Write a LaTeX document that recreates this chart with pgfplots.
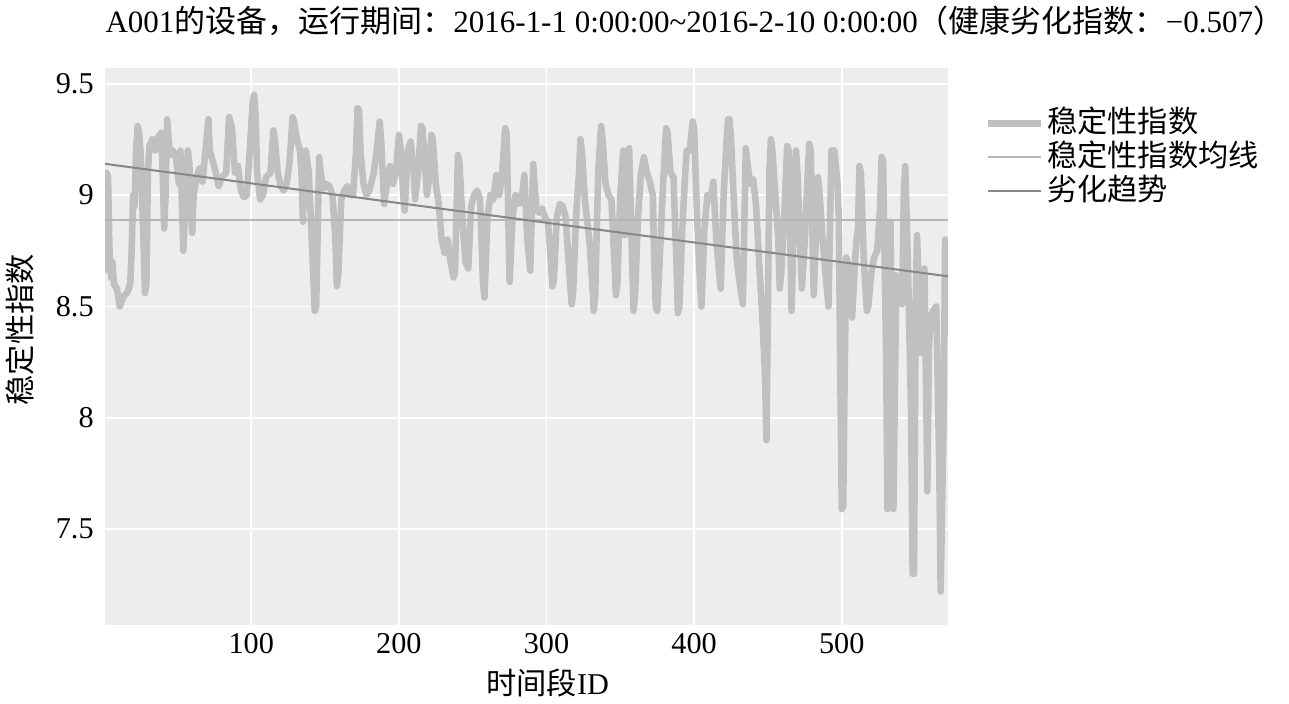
\documentclass[border=0pt]{standalone}
\usepackage{fontspec}
\setmainfont{Liberation Serif}
\newfontfamily\cjk{Noto Sans CJK SC}
\usepackage{pgfplots}
\usepackage{pgfplotstable}
\pgfplotsset{compat=1.18}
\definecolor{panel}{RGB}{237,237,237}
\definecolor{series}{RGB}{192,192,192}
\definecolor{meanc}{RGB}{182,182,182}
\definecolor{trendc}{RGB}{135,135,135}

% stability index per time slot
\pgfplotstableread{
x y
1 8.65
2 9.10
3 9.08
4 8.75
5 8.63
6 8.70
7 8.60
9 8.58
11 8.50
12 8.52
14 8.55
16 8.56
18 8.60
19 8.75
20 9.00
21 8.95
22 9.20
23 9.31
24 9.28
25 9.20
27 8.80
28 8.56
29 8.60
30 9.10
31 9.22
33 9.25
35 9.20
37 9.26
39 9.28
40 9.10
41 8.85
42 9.00
43 9.34
44 9.25
45 9.18
47 9.20
49 9.17
51 9.05
52 9.20
54 8.75
55 8.90
57 9.20
58 9.15
60 8.83
61 9.00
63 9.08
65 9.12
67 9.06
69 9.20
71 9.34
72 9.20
74 9.15
76 9.10
78 9.04
80 9.08
83 9.10
85 9.35
87 9.30
89 9.10
91 9.13
93 9.02
95 8.99
97 9.00
99 9.20
101 9.42
102 9.45
103 9.35
104 9.10
106 8.98
108 9.00
110 9.08
113 9.10
115 9.29
116 9.25
118 9.10
120 9.04
122 9.02
124 9.05
126 9.15
128 9.35
129 9.33
131 9.25
133 9.20
134 9.10
135 8.88
136 9.10
137 9.20
139 9.10
141 8.80
143 8.48
144 8.50
146 9.17
147 9.10
149 9.03
151 9.05
153 9.04
155 9.00
157 8.80
158 8.59
159 8.65
161 8.98
163 9.02
165 9.04
167 9.00
169 9.00
171 9.20
172 9.39
173 9.38
174 9.20
176 9.05
178 9.00
180 9.02
183 9.10
185 9.20
187 9.33
188 9.25
190 8.96
192 9.05
194 9.13
196 9.05
198 9.10
200 9.27
201 9.22
203 9.00
204 8.93
206 9.20
208 9.24
210 9.10
211 8.98
213 9.10
215 9.31
216 9.30
218 9.10
219 9.00
220 9.05
222 9.27
223 9.25
225 9.05
227 8.96
229 8.80
231 8.74
233 8.80
235 8.70
237 8.63
238 8.65
240 9.18
241 9.15
243 8.90
245 8.70
247 8.67
249 8.95
251 9.00
253 9.02
255 8.98
257 8.60
258 8.54
260 8.90
262 9.00
264 8.98
266 9.09
268 9.00
270 9.10
272 9.30
273 9.28
275 8.61
277 8.90
279 9.00
281 8.96
283 8.97
285 9.09
287 8.80
289 8.66
291 9.14
293 8.95
295 8.92
297 8.94
299 8.90
301 8.88
303 8.70
304 8.59
305 8.62
307 8.90
309 8.96
311 8.95
313 8.90
315 8.70
317 8.51
318 8.55
320 8.90
322 9.10
323 9.25
324 9.20
326 8.98
329 8.80
331 8.60
332 8.48
333 8.55
335 9.10
337 9.31
338 9.25
340 9.05
342 9.00
344 8.98
346 8.70
347 8.55
348 8.60
350 9.00
352 9.20
353 8.82
355 9.15
356 9.21
358 8.70
359 8.48
360 8.55
362 8.90
364 9.10
366 9.17
368 9.10
370 9.06
372 9.00
373 8.70
374 8.50
375 8.48
377 8.75
379 9.05
381 9.30
382 9.28
384 9.10
386 9.08
388 8.70
389 8.47
390 8.50
392 8.85
394 9.10
395 9.20
397 9.20
399 9.33
400 9.30
402 8.90
404 8.60
405 8.50
407 8.85
409 9.00
411 8.98
413 9.06
415 8.80
417 8.65
418 8.58
420 9.00
422 9.25
423 9.34
424 9.34
425 9.25
427 8.96
429 8.70
431 8.60
433 8.51
435 9.21
436 9.15
438 9.05
440 9.07
442 8.95
444 8.70
446 8.48
448 8.20
449 7.90
450 8.50
451 9.10
452 9.25
453 9.20
455 9.00
457 8.80
458 8.58
459 8.65
461 8.90
463 9.22
464 9.20
466 8.48
468 9.00
469 9.20
470 9.10
472 8.75
473 8.58
475 8.80
477 9.10
478 9.23
479 9.20
481 8.55
483 8.90
484 9.08
485 9.00
487 8.80
489 8.65
491 8.50
493 9.20
495 9.20
497 9.06
498 8.90
499 8.20
500 7.59
501 7.60
502 8.20
503 8.72
504 8.70
506 8.60
507 8.45
509 8.70
510 8.80
511 8.85
512 9.13
513 9.10
515 8.70
517 8.48
518 8.50
520 8.65
522 8.72
524 8.75
526 8.95
527 9.17
528 9.15
530 8.30
531 7.59
533 8.88
535 7.59
537 8.64
539 8.60
541 8.51
542 9.00
543 9.13
545 8.64
547 8.00
548 7.30
549 7.30
550 8.50
551 8.82
553 8.40
554 8.29
556 8.67
557 8.20
558 7.67
559 8.30
560 8.45
562 8.48
564 8.50
566 7.80
567 7.22
569 8.00
570 8.80
571 8.60
572 8.37
}\stability

\begin{document}
\begin{tikzpicture}
\useasboundingbox (-41.7pt,-31.3pt) rectangle (469.8pt,248pt);
\begin{axis}[
  scale only axis, width=334.5pt, height=221pt,
  xmin=1, xmax=572, ymin=7.07, ymax=9.57,
  axis background/.style={fill=panel},
  axis line style={draw=none},
  xtick={100,200,300,400,500}, ytick={7.5,8,8.5,9,9.5},
  major tick length=0pt,
  grid=major, major grid style={white, line width=0.7pt},
  tick label style={font=\fontsize{12}{14}\selectfont, /pgf/number format/assume math mode=true},
  yticklabel style={xshift=-1pt},
  title={A001{\cjk 的设备，运行期间：}2016-1-1 0:00:00\textasciitilde2016-2-10 0:00:00{\cjk （健康劣化指数：}−0.507{\cjk ）}},
  title style={at={(0,1)}, anchor=base west, yshift=8pt, inner sep=0pt, font=\fontsize{12.3}{14}\selectfont},
  xlabel={{\cjk 时间段}ID},
  xlabel style={at={(axis description cs:0.525,0)}, anchor=center, yshift=-23pt, font=\fontsize{12}{14}\selectfont},
  ylabel={{\cjk 稳定性指数}},
  ylabel style={at={(axis description cs:-0.1007,0.53)}, anchor=center, font=\fontsize{12}{14}\selectfont},
  legend style={at={(1,1)}, anchor=north west, xshift=11.5pt, yshift=-13pt,
    draw=none, fill=none, font=\fontsize{12}{14}\selectfont, row sep=0pt,
    nodes={inner sep=1pt, text height=9.5pt, text depth=2pt}},
  legend cell align=left,
  legend image code/.code={\draw[#1] (0pt,0pt) -- (21pt,0pt);},
]
\addplot[series, line width=2.6pt, line join=round] table[x=x, y=y] {\stability};
\addlegendentry{{\cjk 稳定性指数}}
\addplot[meanc, line width=0.8pt] coordinates {(1,8.89) (572,8.89)};
\addlegendentry{{\cjk 稳定性指数均线}}
\addplot[trendc, line width=0.8pt] coordinates {(1,9.14) (572,8.635)};
\addlegendentry{{\cjk 劣化趋势}}
\end{axis}
\end{tikzpicture}
\end{document}
